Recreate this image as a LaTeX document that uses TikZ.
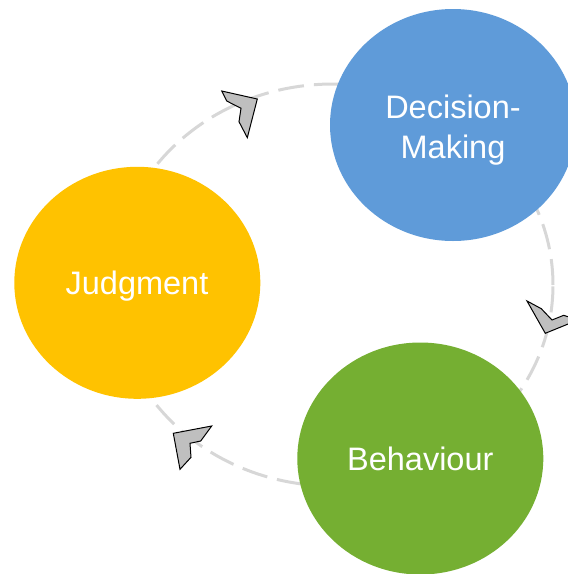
\documentclass[tikz,border=0pt]{standalone}
\usepackage{fontspec}
\newfontfamily\lbsans{Liberation Sans}
\usetikzlibrary{shapes.geometric}
\definecolor{dmblue}{RGB}{95,155,217}
\definecolor{jyellow}{RGB}{255,194,0}
\definecolor{bgreen}{RGB}{117,175,50}
\definecolor{ringgray}{RGB}{215,215,215}
\definecolor{arrowgray}{RGB}{191,191,191}
\tikzset{
  bubble/.style={ellipse, draw=none, inner sep=0pt, minimum width=246pt, minimum height=232pt},
  lbl/.style={text=white, font=\lbsans\fontsize{32.5}{40}\selectfont, align=center, inner sep=0pt},
  ring/.style={draw=ringgray, line width=3pt, dash pattern=on 26pt off 10pt},
  chev/.style={fill=arrowgray, draw=black, line width=1pt, line join=miter}
}
\begin{document}
\begin{tikzpicture}[x=1pt, y=-1pt]
\useasboundingbox (0,0) rectangle (568,574);
\clip (0,0) rectangle (568,574);
% cycle ring (behind the nodes)
\coordinate (O) at (333,285);
\draw[ring] (O) ellipse [x radius=220pt, y radius=201pt];
% direction markers
\draw[chev] (221.7,91) -- (257.3,99) -- (247.3,137.7) -- (239,121.7) -- (241,108.3) -- (226.7,101) -- cycle;
\draw[chev] (527,301) -- (541.3,308.7) -- (552,320) -- (563.7,315.3) -- (578,320) -- (545.3,333.3) -- cycle;
\draw[chev] (173.3,433.3) -- (211.7,426) -- (200.7,441) -- (190,443.3) -- (191,457.3) -- (180,469.3) -- cycle;
% nodes
\node[bubble, fill=dmblue]  (D) at (453,125) {};
\node[bubble, fill=jyellow] (J) at (137.3,282.8) {};
\node[bubble, fill=bgreen]  (B) at (420.3,458.5) {};
% labels
\node[lbl] (Dt) at (453,130.1) {Decision-\\Making};
\node[lbl] (Jt) at (137,286.1) {Judgment};
\node[lbl] (Bt) at (420.3,459.1) {Behaviour};
\end{tikzpicture}
\end{document}
